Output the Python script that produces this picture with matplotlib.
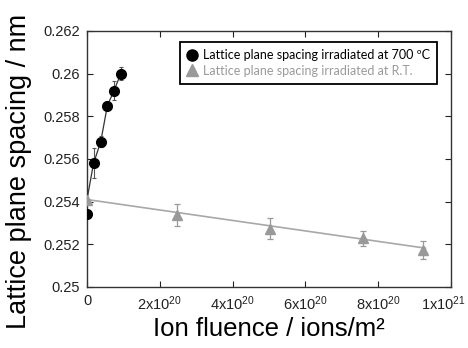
import matplotlib
matplotlib.use("Agg")
import matplotlib.pyplot as plt
from matplotlib.ticker import FixedLocator, FixedFormatter
from matplotlib.transforms import ScaledTranslation
from matplotlib.lines import Line2D

# ---- data ----
x_700 = [0.0, 0.18e20, 0.376e20, 0.56e20, 0.74e20, 0.93e20]
y_700 = [0.2534, 0.2558, 0.2568, 0.2585, 0.2592, 0.26]
e_700 = [0.0001, 0.0007, 0.00026, 0.0002, 0.00044, 0.0003]
line_700_x = [0.0, 0.18e20, 0.376e20, 0.56e20, 0.74e20, 0.93e20, 0.95e20]
line_700_y = [0.2541, 0.2558, 0.2568, 0.2585, 0.2592, 0.26, 0.2602]

x_rt = [0.0, 2.48e20, 5.03e20, 7.57e20, 9.22e20]
y_rt = [0.2541, 0.25338, 0.25273, 0.25228, 0.25173]
e_rt = [0.0, 0.00053, 0.0005, 0.00035, 0.00042]
line_rt_x = [0.0, 9.3e20]
line_rt_y = [0.2541, 0.25182]

xticks = [0, 2e20, 4e20, 6e20, 8e20, 1e21]
xticklabels = ["0", r"2x10$^{20}$", r"4x10$^{20}$", r"6x10$^{20}$", r"8x10$^{20}$", r"1x10$^{21}$"]
yticks = [0.25, 0.252, 0.254, 0.256, 0.258, 0.26, 0.262]
yticklabels = ["0.25", "0.252", "0.254", "0.256", "0.258", "0.26", "0.262"]

label_700 = "Lattice plane spacing irradiated at 700 \u00baC"
label_rt = "Lattice plane spacing irradiated at R.T."

plt.rcParams['font.family'] = ['Liberation Sans', 'DejaVu Sans']
plt.rcParams['mathtext.fontset'] = 'custom'
plt.rcParams['mathtext.rm'] = 'Liberation Sans'
plt.rcParams['mathtext.it'] = 'Liberation Sans'

GRAY = '#999999'
fig = plt.figure(figsize=(4.68, 3.48), dpi=100)
ax = fig.add_axes([87/468, (348-287)/348, (451-87)/468, (287-31)/348])

ax.plot(line_rt_x, line_rt_y, color='#a8a8a8', lw=1.2, zorder=2)
ax.plot(line_700_x, line_700_y, color='#333333', lw=0.9, zorder=2)

ax.errorbar(x_rt, y_rt, yerr=e_rt, fmt='^', color=GRAY, ms=7.5, ecolor=GRAY,
            elinewidth=0.9, capsize=2, capthick=0.9, zorder=3)
ax.errorbar(x_700, y_700, yerr=e_700, fmt='o', color='black', ms=7, ecolor='#555555',
            elinewidth=0.8, capsize=1.5, capthick=0.8, zorder=4)

ax.set_xlim(0, 1e21)
ax.set_ylim(0.25, 0.262)
ax.xaxis.set_major_locator(FixedLocator(xticks))
ax.xaxis.set_major_formatter(FixedFormatter(xticklabels))
ax.yaxis.set_major_locator(FixedLocator(yticks))
ax.yaxis.set_major_formatter(FixedFormatter(yticklabels))
ax.tick_params(direction='in', top=True, right=True, length=4, width=0.8,
               labelsize=10.5, colors='#222222', pad=5)
for s in ax.spines.values():
    s.set_color('#333333')
    s.set_linewidth(1.0)

ax.set_ylabel("Lattice plane spacing / nm", fontsize=19.5)
ax.yaxis.set_label_coords(-0.15, 0.453)
ax.set_xlabel("Ion fluence / ions/m\u00b2", fontsize=18.5, labelpad=3)

fig.canvas.draw()
lbls = ax.get_xticklabels()
lbls[-1].set_transform(lbls[-1].get_transform() + ScaledTranslation(-0.08, 0, fig.dpi_scale_trans))

handles = [Line2D([], [], ls='none', marker='o', color='black', ms=8),
           Line2D([], [], ls='none', marker='^', color=GRAY, ms=8)]
leg = ax.legend(handles, [label_700, label_rt], loc='upper right',
                bbox_to_anchor=(0.9615, 0.957), borderaxespad=0,
                fancybox=False, edgecolor='black', framealpha=1,
                prop={'family': ['Lato', 'DejaVu Sans'], 'size': 9},
                handletextpad=0.4, handlelength=0.9, borderpad=0.55,
                labelspacing=0.3)
leg.get_frame().set_linewidth(1.3)
for t, c in zip(leg.get_texts(), ['black', '#9a9a9a']):
    t.set_color(c)

fig.savefig("out.png", dpi=100)
